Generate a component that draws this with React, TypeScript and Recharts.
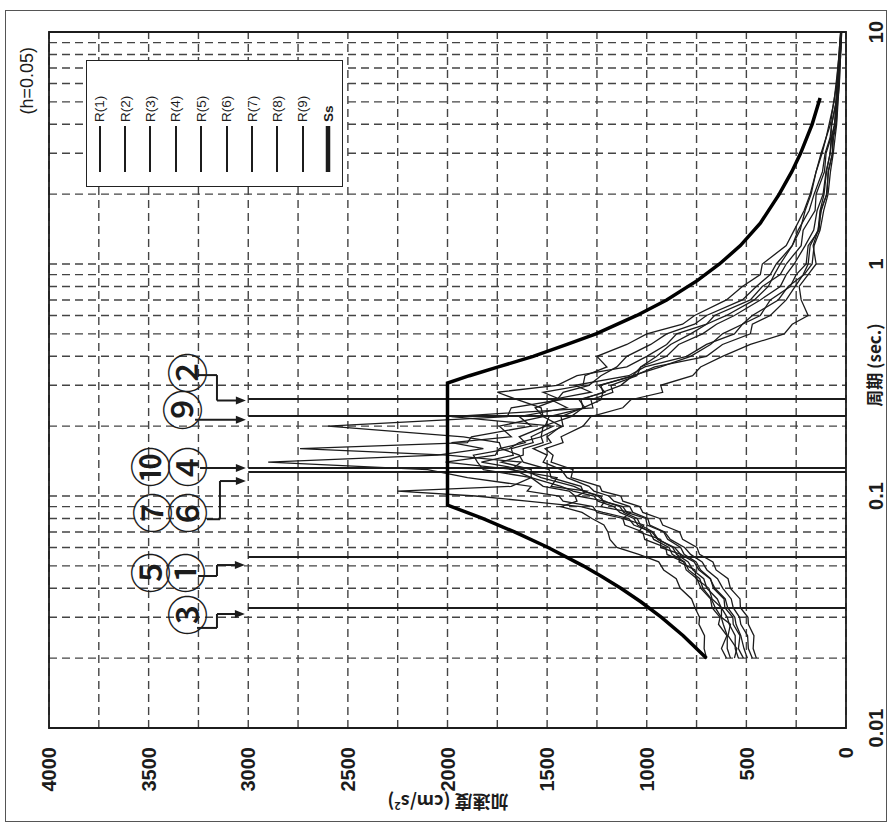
import React from 'react'
import {
  LineChart, Line, XAxis, YAxis, CartesianGrid, ReferenceLine, ReferenceDot, ReferenceArea, Legend,
} from 'recharts'

// ── periods (sec.) shared by the R(1)..R(9) spectra ──────────────────────────
const PERIODS = [
  0.02, 0.022, 0.025, 0.028, 0.03, 0.033, 0.036, 0.04, 0.044, 0.048,
  0.052, 0.056, 0.06, 0.065, 0.07, 0.075, 0.08, 0.085, 0.09, 0.095,
  0.1, 0.105, 0.11, 0.12, 0.13, 0.14, 0.15, 0.16, 0.17, 0.18,
  0.2, 0.22, 0.24, 0.26, 0.28, 0.3, 0.33, 0.36, 0.4, 0.45,
  0.5, 0.55, 0.6, 0.7, 0.8, 0.9, 1.0, 1.2, 1.4, 1.7,
  2.0, 2.5, 3.0, 3.5, 4.0, 5.0, 6.0, 7.0, 8.5, 10,
]

// acceleration (cm/s2), h=0.05
const R1 = [
  600, 625, 598, 640, 632, 672, 680, 728, 748, 802,
  815, 898, 905, 1010, 1020, 1110, 1120, 1250, 1270, 1420,
  1440, 1600, 1580, 1900, 2100, 2900, 2050, 1820, 1980, 1680,
  1740, 1520, 1560, 1450, 1420, 1290, 1230, 1150, 1100, 980,
  900, 760, 700, 520, 450, 380, 350, 270, 240, 185,
  160, 118, 105, 80, 72, 50, 44, 35, 31, 25,
]
const R2 = [
  560, 548, 592, 580, 625, 625, 672, 688, 752, 758,
  838, 828, 930, 930, 1040, 1015, 1120, 1080, 1230, 1210,
  1350, 1300, 1480, 1450, 1680, 1630, 2000, 2740, 1900, 1880,
  1580, 1640, 1400, 1480, 1280, 1360, 1090, 1010, 800, 700,
  560, 520, 430, 380, 280, 250, 200, 190, 135, 128,
  95, 90, 68, 68, 50, 46, 36, 34, 27, 23,
]
const R3 = [
  515, 540, 532, 566, 568, 608, 612, 665, 680, 730,
  752, 812, 830, 895, 915, 998, 1005, 1100, 1120, 1220,
  1230, 1320, 1330, 1480, 1490, 1620, 1640, 1730, 1740, 1920,
  2600, 1700, 1680, 1430, 1520, 1320, 1310, 1200, 1250, 1100,
  1000, 820, 760, 600, 520, 430, 420, 300, 260, 210,
  180, 150, 125, 100, 85, 60, 50, 40, 33, 27,
]
const R4 = [
  495, 512, 528, 552, 558, 594, 606, 658, 682, 738,
  762, 830, 860, 945, 975, 1065, 1090, 1220, 1330, 1600,
  1860, 2250, 1680, 1580, 1580, 1730, 1620, 1620, 1520, 1530,
  1420, 1430, 1320, 1330, 1220, 1230, 1070, 1030, 900, 840,
  720, 650, 560, 430, 330, 300, 260, 205, 162, 145,
  115, 100, 79, 72, 56, 47, 37, 33, 27, 23,
]
const R5 = [
  470, 490, 494, 528, 534, 566, 576, 618, 645, 698,
  722, 780, 810, 882, 910, 985, 995, 1070, 1085, 1165,
  1190, 1265, 1290, 1400, 1430, 1520, 1500, 1570, 1480, 1500,
  1430, 1520, 1530, 1650, 1750, 1450, 1350, 1100, 1000, 900,
  850, 700, 660, 480, 420, 330, 300, 225, 215, 155,
  150, 108, 100, 76, 72, 49, 47, 36, 33, 26,
]
const R6 = [
  700, 712, 710, 738, 735, 758, 775, 832, 852, 915,
  940, 1040, 1150, 1185, 1195, 1215, 1275, 1325, 1430, 1350,
  1360, 1390, 1520, 1580, 1820, 1850, 1870, 1690, 1640, 1530,
  1520, 1380, 1320, 1230, 1220, 1130, 1070, 930, 780, 680,
  620, 520, 470, 340, 290, 210, 170, 160, 130, 112,
  90, 78, 64, 55, 47, 40, 34, 30, 26, 22,
]
const R7 = [
  450, 466, 462, 490, 492, 530, 532, 580, 592, 652,
  668, 735, 748, 820, 835, 920, 935, 1020, 1035, 1120,
  1130, 1225, 1235, 1380, 1370, 1480, 1470, 1510, 1420, 1430,
  1320, 1280, 1120, 1080, 920, 930, 770, 730, 620, 480,
  310, 270, 190, 225, 235, 190, 150, 165, 140, 124,
  98, 88, 68, 63, 49, 42, 33, 31, 25, 22,
]
const R8 = [
  540, 556, 556, 586, 596, 626, 646, 698, 714, 768,
  792, 850, 870, 942, 968, 1032, 1048, 1115, 1135, 1215,
  1245, 1315, 1365, 1530, 1620, 1830, 1670, 1680, 1570, 1580,
  1470, 1980, 1270, 1280, 1170, 1180, 1050, 1030, 950, 880,
  780, 700, 600, 460, 390, 360, 330, 270, 230, 205,
  175, 150, 120, 100, 78, 62, 46, 42, 31, 27,
]
const R9 = [
  580, 596, 596, 616, 626, 656, 676, 718, 734, 790,
  810, 872, 888, 965, 985, 1045, 1065, 1135, 1165, 1245,
  1265, 1370, 1430, 1580, 1670, 2010, 1760, 1740, 1610, 1640,
  1510, 1490, 1310, 1340, 1210, 1240, 1060, 960, 700, 620,
  480, 470, 380, 300, 255, 215, 190, 180, 140, 130,
  110, 98, 80, 74, 58, 50, 40, 36, 29, 25,
]
const R_SERIES = [R1, R2, R3, R4, R5, R6, R7, R8, R9]
const R_NAMES = ['R(1)', 'R(2)', 'R(3)', 'R(4)', 'R(5)', 'R(6)', 'R(7)', 'R(8)', 'R(9)']

// design spectrum Ss
const SS_PERIODS = [
  0.02, 0.025, 0.03, 0.035, 0.04, 0.045, 0.05, 0.06, 0.07, 0.08, 0.0914,
  0.307, 0.33, 0.36, 0.4, 0.45, 0.5, 0.6, 0.7, 0.85, 1.0, 1.2, 1.5, 2.0, 2.5, 3.0, 4.0, 5.2,
]
const SS_VALUES = [
  700, 817, 926, 1030, 1130, 1226, 1319, 1495, 1664, 1824, 2000,
  2000, 1890, 1745, 1570, 1400, 1255, 1050, 900, 745, 635, 530, 430, 335, 272, 228, 170, 130,
]

// marked wave periods (vertical lines up to 3000 gal)
const WAVE_PERIODS = [0.0329, 0.0546, 0.127, 0.132, 0.221, 0.262]
const WAVE_TOP = 3000

// circled labels: [label, period, acceleration]
const MARKS: [string, number, number][] = [
  ['③', 0.0307, 3318],
  ['①', 0.0466, 3328], ['⑤', 0.0466, 3503],
  ['⑥', 0.0845, 3318], ['⑦', 0.0845, 3493],
  ['④', 0.1334, 3318], ['⑩', 0.1334, 3503],
  ['⑨', 0.235, 3343],
  ['②', 0.339, 3318],
]
// leader arrows: polyline in [period, acceleration]
const ARROWS: [number, number][][] = [
  [[0.027, 3257], [0.027, 3157], [0.031, 3157], [0.031, 3057]],
  [[0.0452, 3252], [0.0452, 3157], [0.0504, 3157], [0.0504, 3057]],
  [[0.0794, 3207], [0.0794, 3142], [0.116, 3142], [0.116, 3052]],
  [[0.132, 3242], [0.132, 3052]],
  [[0.213, 3267], [0.213, 3052]],
  [[0.332, 3252], [0.332, 3157], [0.258, 3157], [0.258, 3052]],
]

// axis ticks
const PERIOD_TICKS = [
  0.01, 0.02, 0.03, 0.04, 0.05, 0.06, 0.07, 0.08, 0.09,
  0.1, 0.2, 0.3, 0.4, 0.5, 0.6, 0.7, 0.8, 0.9,
  1, 2, 3, 4, 5, 6, 7, 8, 9, 10,
]
const PERIOD_LABELS = [0.01, 0.1, 1, 10]
const ACC_TICKS = [
  0, 250, 500, 750, 1000, 1250, 1500, 1750, 2000, 2250, 2500, 2750, 3000, 3250, 3500, 3750, 4000,
]
const ACC_LABELS = [0, 500, 1000, 1500, 2000, 2500, 3000, 3500, 4000]

const rows = PERIODS.map((T, i) => {
  const row: Record<string, number> = { T }
  R_SERIES.forEach((s, k) => { row[`r${k + 1}`] = s[i] })
  return row
})
const ssRows = SS_PERIODS.map((T, i) => ({ T, ss: SS_VALUES[i] }))

const FONT = '"Liberation Sans", Arial, sans-serif'
const CJK = '"Noto Sans CJK JP", "Liberation Sans", sans-serif'
const INK = '#1c1c1c'

function PeriodTick({ x, y, payload }: any) {
  if (!PERIOD_LABELS.includes(payload.value)) return null
  return (
    <text x={x} y={y + 37} textAnchor="middle" fontSize={20} fontWeight="bold" fontFamily={FONT} fill={INK}>
      {String(payload.value)}
    </text>
  )
}

function AccTick({ x, y, payload }: any) {
  if (!ACC_LABELS.includes(payload.value)) return null
  return (
    <text x={x - 19} y={y} dy="0.36em" textAnchor="end" fontSize={20} fontWeight="bold" fontFamily={FONT} fill={INK}>
      {payload.value}
    </text>
  )
}

function LegendBox() {
  const names = [...R_NAMES, 'Ss']
  return (
    <div style={{
      width: 127, height: 257, boxSizing: 'border-box', border: '1.5px solid #222', background: '#fff',
      fontFamily: FONT, fontSize: 13.5, color: INK,
    }}>
      {names.map(n => (
        <div key={n} style={{ height: 25.4, display: 'flex', alignItems: 'center' }}>
          <svg width={60} height={6} style={{ display: 'block' }}>
            <line x1={14} x2={60} y1={3} y2={3} stroke={INK} strokeWidth={n === 'Ss' ? 4.5 : 2} />
          </svg>
          <span style={{ marginLeft: 4, fontWeight: n === 'Ss' ? 'bold' : 'normal' }}>{n}</span>
        </div>
      ))}
    </div>
  )
}

export default function App() {
  return (
    <div style={{ position: 'absolute', left: 0, top: 0, width: 891, height: 831, overflow: 'hidden', background: '#fff' }}>
      {/* chart drawn upright then turned 90° counter-clockwise like the scanned sheet */}
      <div style={{
        position: 'absolute', left: 0, top: 0, width: 831, height: 891,
        transform: 'translate(0px, 831px) rotate(-90deg)', transformOrigin: '0 0',
      }}>
        <div style={{ position: 'absolute', left: 9, top: 5, width: 812, height: 882, border: '1.5px solid #555', boxSizing: 'border-box' }} />
        <div style={{ position: 'absolute', left: 684, top: 16, width: 100, textAlign: 'right', fontFamily: FONT, fontSize: 18, lineHeight: '22px', color: INK }}>
          (h=0.05)
        </div>
        <div style={{ position: 'absolute', left: 366, top: 864, width: 200, textAlign: 'center', fontFamily: CJK, fontSize: 17, fontWeight: 'bold', lineHeight: '20px', color: INK }}>
          周期 (sec.)
        </div>
        <div style={{
          position: 'absolute', left: -76, top: 438, width: 200, height: 20, textAlign: 'center', fontFamily: CJK,
          fontSize: 18, fontWeight: 'bold', lineHeight: '20px', color: INK, transform: 'rotate(-90deg)',
        }}>
          加速度 (cm/s<sup style={{ fontSize: 11 }}>2</sup>)
        </div>
        <LineChart width={831} height={891} data={rows} margin={{ top: 49, right: 32, bottom: 0, left: 0 }}>
          <CartesianGrid stroke="#444" strokeWidth={1.4} strokeDasharray="8 5" />
          <XAxis
            dataKey="T" type="number" scale="log" domain={[0.01, 10]} allowDataOverflow
            ticks={PERIOD_TICKS} interval={0} height={45} tickSize={0} tickMargin={0}
            axisLine={false} tickLine={false} tick={<PeriodTick />}
          />
          <YAxis
            type="number" domain={[0, 4000]} allowDataOverflow ticks={ACC_TICKS} interval={0}
            width={103} tickSize={0} tickMargin={0} axisLine={false} tickLine={false} tick={<AccTick />}
          />
          <ReferenceArea x1={0.01} x2={10} y1={0} y2={4000} fill="none" stroke={INK} strokeWidth={1.8} />
          {WAVE_PERIODS.map(p => (
            <ReferenceLine key={p} segment={[{ x: p, y: 0 }, { x: p, y: WAVE_TOP }]} stroke={INK} strokeWidth={2} />
          ))}
          {ARROWS.flatMap((pts, a) => pts.slice(1).map((pt, i) => (
            <ReferenceLine
              key={`a${a}-${i}`}
              segment={[{ x: pts[i][0], y: pts[i][1] }, { x: pt[0], y: pt[1] }]}
              stroke={INK} strokeWidth={2}
            />
          )))}
          {ARROWS.map((pts, a) => {
            const end = pts[pts.length - 1]
            return (
              <ReferenceDot
                key={`h${a}`} x={end[0]} y={end[1]} r={0}
                shape={(p: any) => (
                  <path d={`M${p.cx - 4},${p.cy - 2}L${p.cx + 4},${p.cy - 2}L${p.cx},${p.cy + 8}Z`} fill={INK} />
                )}
              />
            )
          })}
          {MARKS.map(([label, p, a]) => (
            <ReferenceDot
              key={label} x={p} y={a} r={0}
              shape={(d: any) => (
                <text x={d.cx} y={d.cy} textAnchor="middle" dominantBaseline="central" fontSize={41} fontWeight={500} fontFamily={CJK} fill={INK}>
                  {label}
                </text>
              )}
            />
          ))}
          {R_NAMES.map((n, k) => (
            <Line
              key={n} name={n} dataKey={`r${k + 1}`} stroke={INK} strokeWidth={1.3}
              dot={false} isAnimationActive={false} type="linear"
            />
          ))}
          <Line
            data={ssRows} name="Ss" dataKey="ss" stroke="#000" strokeWidth={3.5}
            dot={false} isAnimationActive={false} type="linear"
          />
          <Legend
            layout="vertical" align="center" verticalAlign="middle"
            wrapperStyle={{ left: 644, top: 86, width: 127, height: 257 }}
            content={() => <LegendBox />}
          />
        </LineChart>
      </div>
    </div>
  )
}
